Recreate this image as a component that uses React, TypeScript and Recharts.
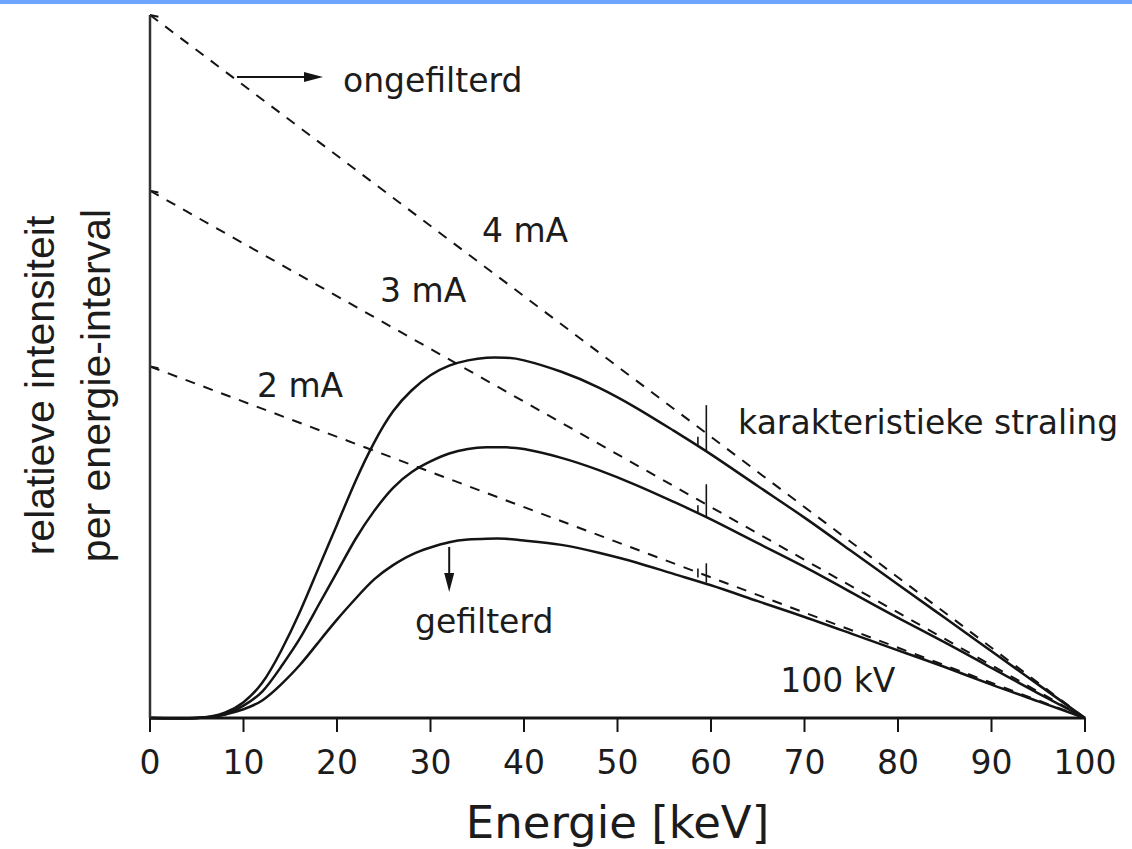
import React from 'react';
import { LineChart, Line, XAxis, YAxis, ReferenceLine, ReferenceDot, Label } from 'recharts';

// energy grid (keV) for the filtered spectra
const energy = [0, 5, 8, 10, 12, 14, 16, 18, 20, 22, 24, 26, 28, 30, 32, 34, 36, 38, 40, 44, 48, 52, 56, 60, 65, 70, 75, 80, 85, 90, 95, 100];

// filtered spectra (solid), relative intensity
const filtered4mA = [0, 0, 0.03, 0.09, 0.2, 0.38, 0.6, 0.85, 1.1, 1.35, 1.57, 1.745, 1.865, 1.95, 2.005, 2.035, 2.05, 2.05, 2.035, 1.97, 1.88, 1.765, 1.635, 1.5, 1.32, 1.14, 0.95, 0.76, 0.57, 0.38, 0.19, 0];
const filtered3mA = [0, 0, 0.02, 0.07, 0.15, 0.29, 0.45, 0.64, 0.83, 1.02, 1.18, 1.31, 1.4, 1.46, 1.505, 1.53, 1.54, 1.54, 1.53, 1.48, 1.41, 1.325, 1.23, 1.13, 0.995, 0.86, 0.715, 0.57, 0.43, 0.285, 0.14, 0];
const filtered2mA = [0, 0, 0.02, 0.05, 0.1, 0.19, 0.3, 0.43, 0.56, 0.68, 0.79, 0.87, 0.93, 0.97, 1.0, 1.015, 1.02, 1.02, 1.01, 0.985, 0.94, 0.885, 0.82, 0.755, 0.665, 0.575, 0.48, 0.385, 0.29, 0.19, 0.095, 0];

// unfiltered spectra (dashed)
const unfilteredEnergy = [0, 100];
const unfiltered4mA = [4, 0];
const unfiltered3mA = [3, 0];
const unfiltered2mA = [2, 0];

// characteristic radiation spikes: [bottom, top] at each line energy
const kLineEnergies = [58.6, 59.5];
const kLines4mA = [[1.55, 1.6], [1.52, 1.78]];
const kLines3mA = [[1.17, 1.21], [1.14, 1.33]];
const kLines2mA = [[0.8, 0.85], [0.77, 0.88]];

const xTicks = [0, 10, 20, 30, 40, 50, 60, 70, 80, 90, 100];
const yMajorTicks = [2, 3, 4];
const yMinorTicks = [0, 0.2, 0.4, 0.6, 0.8, 1, 1.2, 1.4, 1.6, 1.8, 2, 2.2, 2.4, 2.6, 2.8, 3, 3.2, 3.4, 3.6, 3.8, 4];

const toPoints = (xs: number[], ys: number[]) => xs.map((e, i) => ({ e, v: ys[i] }));

const INK = '#141414';
const FONT = 'DejaVu Sans';

const AnnotText = ({ cx, cy, text }: any) => (
  <text x={cx} y={cy} textAnchor="start" fontFamily={FONT} fontSize={33} fill="#1c1c1c">
    {text}
  </text>
);

const ArrowRight = ({ cx, cy }: any) => (
  <polygon points={`${cx},${cy} ${cx - 19},${cy - 5} ${cx - 19},${cy + 5}`} fill={INK} />
);

const ArrowDown = ({ cx, cy }: any) => (
  <polygon points={`${cx},${cy} ${cx - 5},${cy - 19} ${cx + 5},${cy - 19}`} fill={INK} />
);

const YTitle = (props: any) => {
  const { viewBox } = props;
  const right = viewBox.x + viewBox.width;
  const cy = viewBox.y + viewBox.height / 2 + 19;
  const style = { fontFamily: 'Liberation Sans', fontSize: 41, fill: '#1c1c1c' };
  return (
    <g>
      <text transform={`translate(${right - 96}, ${cy}) rotate(-90)`} textAnchor="middle" {...style}>
        relatieve intensiteit
      </text>
      <text transform={`translate(${right - 40}, ${cy}) rotate(-90)`} textAnchor="middle" {...style}>
        per energie-interval
      </text>
    </g>
  );
};

const kSpikes = (lines: number[][], key: string) =>
  kLineEnergies.map((e, i) => (
    <ReferenceLine
      key={`${key}-${i}`}
      segment={[{ x: e, y: lines[i][0] }, { x: e, y: lines[i][1] }]}
      stroke={INK}
      strokeWidth={1.6}
    />
  ));

export default function App() {
  return (
    <div style={{ position: 'absolute', left: 0, top: 0, width: 1132, height: 849, background: '#fff' }}>
      <div style={{ position: 'absolute', left: 0, top: 0, width: 1132, height: 4, background: '#6ea6ff' }} />
      <LineChart width={1132} height={849} margin={{ top: 15, right: 47, bottom: 71, left: 0 }}>
        <XAxis
          type="number"
          dataKey="e"
          domain={[0, 100]}
          ticks={xTicks}
          interval={0}
          height={60}
          axisLine={{ stroke: INK, strokeWidth: 3 }}
          tickLine={{ stroke: INK, strokeWidth: 2 }}
          tickSize={14}
          tickMargin={19}
          tick={{ fontFamily: FONT, fontSize: 33, fill: '#1c1c1c' }}
        >
          <Label value="Energie [keV]" position="bottom" offset={28} fontFamily={FONT} fontSize={45} fill="#1c1c1c" />
        </XAxis>
        <YAxis
          type="number"
          dataKey="v"
          domain={[0, 4]}
          ticks={yMinorTicks}
          interval={0}
          width={150}
          axisLine={{ stroke: '#333', strokeWidth: 2.5 }}
          tickLine={{ stroke: '#999', strokeWidth: 1 }}
          tickSize={3}
          tick={false}
        >
          <Label content={YTitle} />
        </YAxis>

        {yMajorTicks.map((t) => (
          <ReferenceLine key={`yt-${t}`} segment={[{ x: 0, y: t }, { x: 0.9, y: t - 0.01 }]} stroke={INK} strokeWidth={2} />
        ))}

        <Line data={toPoints(unfilteredEnergy, unfiltered4mA)} dataKey="v" type="linear" stroke={INK} strokeWidth={2} strokeDasharray="10 9" dot={false} isAnimationActive={false} />
        <Line data={toPoints(unfilteredEnergy, unfiltered3mA)} dataKey="v" type="linear" stroke={INK} strokeWidth={2} strokeDasharray="10 9" dot={false} isAnimationActive={false} />
        <Line data={toPoints(unfilteredEnergy, unfiltered2mA)} dataKey="v" type="linear" stroke={INK} strokeWidth={2} strokeDasharray="10 9" dot={false} isAnimationActive={false} />

        <Line data={toPoints(energy, filtered4mA)} dataKey="v" type="natural" stroke={INK} strokeWidth={2.5} dot={false} isAnimationActive={false} />
        <Line data={toPoints(energy, filtered3mA)} dataKey="v" type="natural" stroke={INK} strokeWidth={2.5} dot={false} isAnimationActive={false} />
        <Line data={toPoints(energy, filtered2mA)} dataKey="v" type="natural" stroke={INK} strokeWidth={2.5} dot={false} isAnimationActive={false} />

        {kSpikes(kLines4mA, 'k4')}
        {kSpikes(kLines3mA, 'k3')}
        {kSpikes(kLines2mA, 'k2')}

        {/* arrow to "ongefilterd" */}
        <ReferenceLine segment={[{ x: 9.3, y: 3.647 }, { x: 17, y: 3.647 }]} stroke={INK} strokeWidth={2} />
        <ReferenceDot x={18.5} y={3.647} r={1} shape={<ArrowRight />} />
        <ReferenceDot x={20.64} y={3.562} r={1} shape={<AnnotText text="ongefilterd" />} />

        {/* arrow to "gefilterd" */}
        <ReferenceLine segment={[{ x: 32, y: 0.973 }, { x: 32, y: 0.78 }]} stroke={INK} strokeWidth={2} />
        <ReferenceDot x={32} y={0.717} r={1} shape={<ArrowDown />} />
        <ReferenceDot x={28.34} y={0.484} r={1} shape={<AnnotText text="gefilterd" />} />

        <ReferenceDot x={35.5} y={2.708} r={1} shape={<AnnotText text="4 mA" />} />
        <ReferenceDot x={24.6} y={2.367} r={1} shape={<AnnotText text="3 mA" />} />
        <ReferenceDot x={11.44} y={1.826} r={1} shape={<AnnotText text="2 mA" />} />
        <ReferenceDot x={62.9} y={1.616} r={1} shape={<AnnotText text="karakteristieke straling" />} />
        <ReferenceDot x={67.4} y={0.148} r={1} shape={<AnnotText text="100 kV" />} />
      </LineChart>
    </div>
  );
}
